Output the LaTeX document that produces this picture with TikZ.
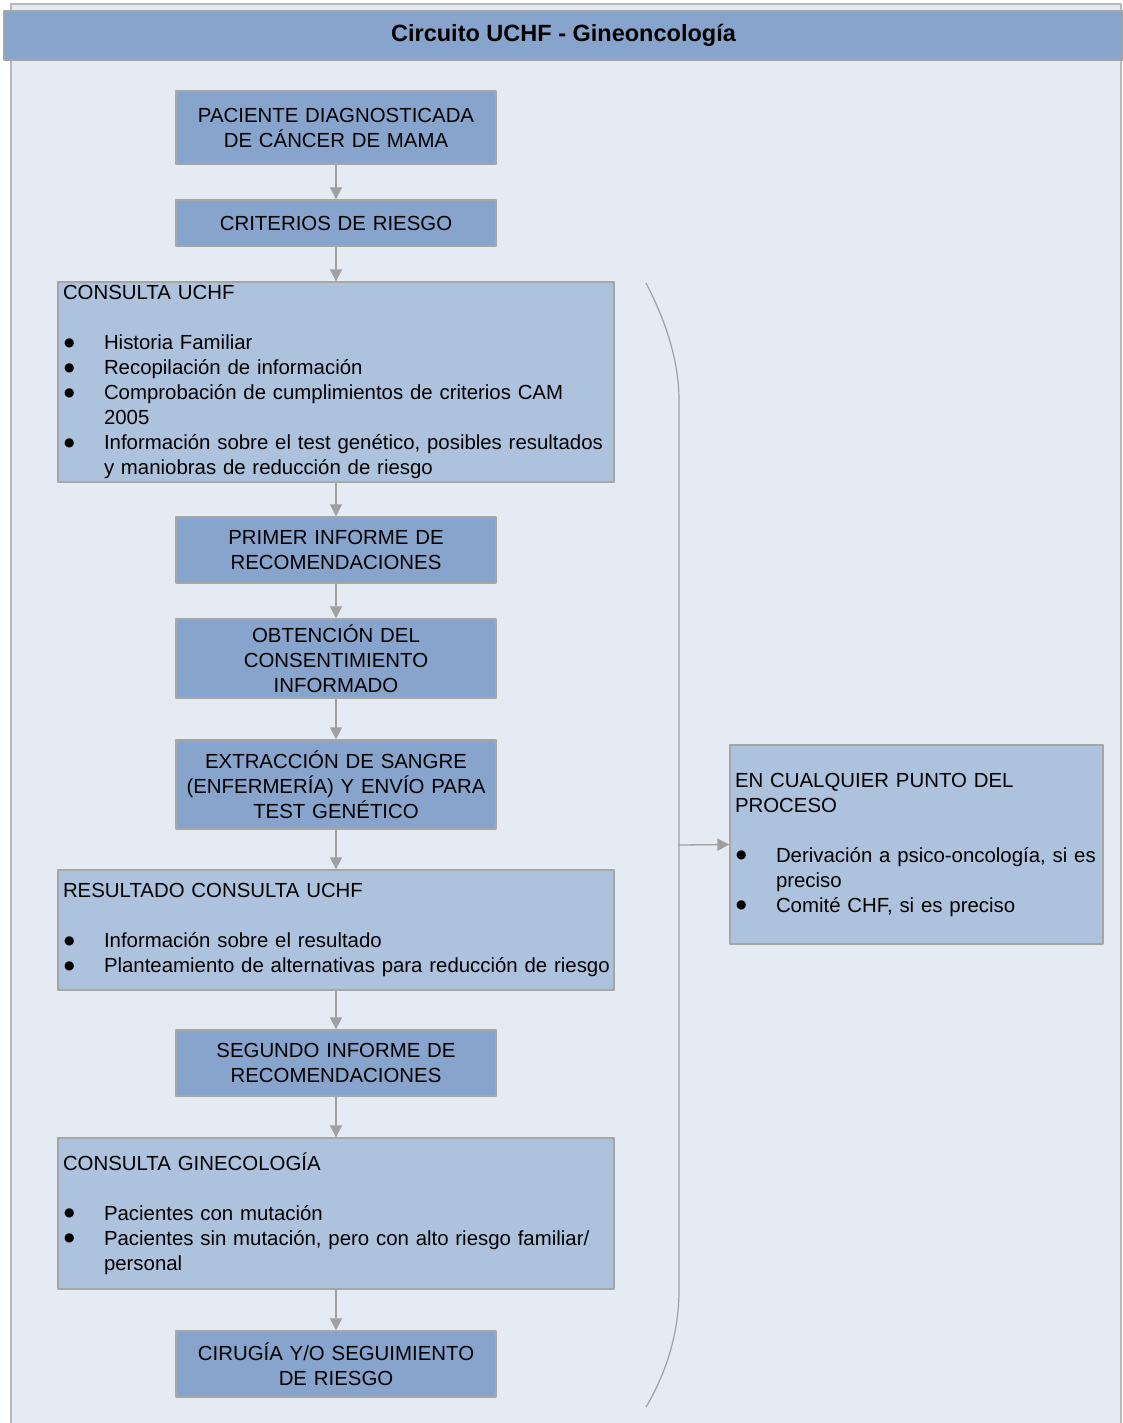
\documentclass[tikz,border=0pt]{standalone}
\usepackage{fontspec}
\setmainfont{Liberation Sans}
\newfontfamily\simbolo{DejaVu Sans}
\usetikzlibrary{arrows.meta}
\definecolor{fondo}{RGB}{228,235,243}
\definecolor{azulosc}{RGB}{135,164,204}
\definecolor{azulcla}{RGB}{173,194,221}
\definecolor{borde}{RGB}{166,166,166}
\definecolor{gris}{RGB}{160,160,160}
\newcommand{\vin}[1]{\mbox{\makebox[41pt][l]{\hspace*{1pt}\raisebox{3.5pt}{\simbolo\fontsize{12}{12}\selectfont ●}}#1}}
\newcommand{\sigue}[1]{\mbox{\hspace*{41pt}#1}}
\begin{document}
\begin{tikzpicture}[x=1pt,y=-1pt,font=\fontsize{20.4}{25}\selectfont,line join=round,
  paso/.style={draw=borde,line width=1.3pt,fill=azulosc,minimum width=320pt,text width=310pt,inner xsep=5pt,inner ysep=0pt,align=center},
  lista/.style={draw=borde,line width=1.3pt,fill=azulcla,inner xsep=5pt,inner ysep=0pt,align=left},
  flujo/.style={draw=gris,line width=1.3pt,-{Triangle[length=12pt,width=12pt]}}]
\useasboundingbox (0,0) rectangle (1123,1423);
\fill[fondo] (11,4) rectangle (1121,1423);
\draw[borde!80,line width=1.3pt] (11,1423)--(11,4)--(1121,4)--(1121,1423);
\node[draw=borde,line width=1.3pt,fill=azulosc,minimum width=1119pt,minimum height=49pt,font=\bfseries\fontsize{23.5}{28}\selectfont] (titulo) at (563.5,35.5) {Circuito UCHF - Gineoncología};

\node[paso,minimum height=73pt] (paciente) at (336,127.5) {PACIENTE DIAGNOSTICADA\\DE CÁNCER DE MAMA};
\node[paso,minimum height=46pt] (criterios) at (336,223) {CRITERIOS DE RIESGO};
\node[lista,minimum height=200pt,text width=546pt] (consulta) at (336,382) {CONSULTA UCHF\\[25pt]
  \vin{Historia Familiar}\\
  \vin{Recopilación de información}\\
  \vin{Comprobación de cumplimientos de criterios CAM}\\
  \sigue{2005}\\
  \vin{Información sobre el test genético, posibles resultados}\\
  \sigue{y maniobras de reducción de riesgo}};
\node[paso,minimum height=66pt] (primer) at (336,550) {PRIMER INFORME DE\\RECOMENDACIONES};
\node[paso,minimum height=79pt] (obtencion) at (336,658.5) {OBTENCIÓN DEL\\CONSENTIMIENTO\\INFORMADO};
\node[paso,minimum height=89pt] (extraccion) at (336,784.5) {EXTRACCIÓN DE SANGRE\\(ENFERMERÍA) Y ENVÍO PARA\\TEST GENÉTICO};
\node[lista,minimum height=120pt,text width=546pt] (resultado) at (336,930) {RESULTADO CONSULTA UCHF\\[25pt]
  \vin{Información sobre el resultado}\\
  \vin{Planteamiento de alternativas para reducción de riesgo}};
\node[paso,minimum height=66pt] (segundo) at (336,1063) {SEGUNDO INFORME DE\\RECOMENDACIONES};
\node[lista,minimum height=151pt,text width=546pt] (gineco) at (336,1213.5) {CONSULTA GINECOLOGÍA\\[25pt]
  \vin{Pacientes con mutación}\\
  \vin{Pacientes sin mutación, pero con alto riesgo familiar/}\\
  \sigue{personal}};
\node[paso,minimum height=66pt] (cirugia) at (336,1364) {CIRUGÍA Y/O SEGUIMIENTO\\DE RIESGO};
\node[lista,minimum height=199pt,text width=363pt] (cualquier) at (916.5,844.5) {EN CUALQUIER PUNTO DEL\\PROCESO\\[25pt]
  \vin{Derivación a psico-oncología, si es}\\
  \sigue{preciso}\\
  \vin{Comité CHF, si es preciso}};

\foreach \a/\b in {paciente/criterios, criterios/consulta, consulta/primer, primer/obtencion, obtencion/extraccion, extraccion/resultado, resultado/segundo, segundo/gineco, gineco/cirugia}
  \draw[flujo] (\a.south) -- (\b.north);

\draw[gris,line width=1.2pt] (646,283) .. controls (668,325) and (679,365) .. (679,400) -- (679,1290) .. controls (679,1330) and (668,1370) .. (646,1407);
\coordinate (llave) at (679,845);
\draw[flujo] (llave) -- (cualquier.west);
\end{tikzpicture}
\end{document}
